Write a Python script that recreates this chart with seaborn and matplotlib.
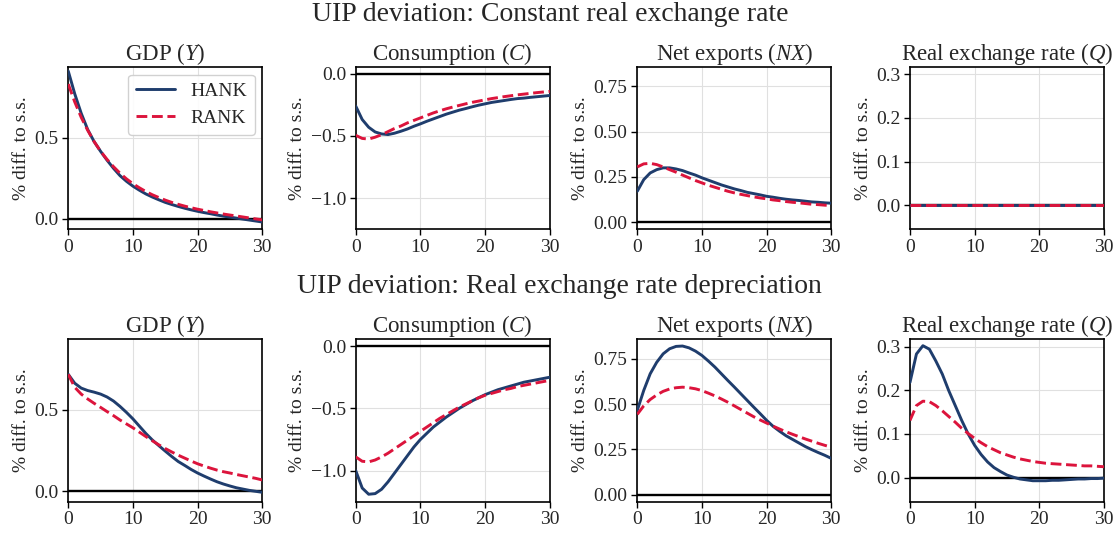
import numpy as np
import pandas as pd
import seaborn as sns
import matplotlib.pyplot as plt

# horizon (quarters)
t = list(range(31))

# --- row 1: UIP deviation, constant real exchange rate ---
gdp_hank_1 = [0.91, 0.77, 0.65, 0.55, 0.475, 0.415, 0.36, 0.31, 0.265, 0.23, 0.20,
              0.175, 0.152, 0.133, 0.116, 0.10, 0.087, 0.075, 0.064, 0.054, 0.045,
              0.037, 0.03, 0.022, 0.015, 0.009, 0.003, -0.003, -0.009, -0.015, -0.021]
gdp_rank_1 = [0.83, 0.72, 0.625, 0.545, 0.475, 0.415, 0.365, 0.32, 0.28, 0.245, 0.215,
              0.19, 0.167, 0.147, 0.13, 0.114, 0.10, 0.088, 0.077, 0.067, 0.058,
              0.05, 0.042, 0.035, 0.028, 0.022, 0.016, 0.01, 0.004, -0.002, -0.008]
c_hank_1 = [-0.26, -0.368, -0.43, -0.468, -0.484, -0.489, -0.478, -0.462, -0.444, -0.422, -0.403,
            -0.382, -0.363, -0.344, -0.325, -0.309, -0.293, -0.28, -0.266, -0.253, -0.242,
            -0.231, -0.223, -0.215, -0.207, -0.2, -0.196, -0.19, -0.185, -0.18, -0.175]
c_rank_1 = [-0.495, -0.52, -0.525, -0.51, -0.49, -0.465, -0.44, -0.42, -0.395, -0.375, -0.355,
            -0.335, -0.315, -0.298, -0.282, -0.268, -0.255, -0.242, -0.23, -0.22, -0.21,
            -0.2, -0.192, -0.184, -0.177, -0.17, -0.164, -0.158, -0.152, -0.147, -0.142]
nx_hank_1 = [0.171, 0.235, 0.272, 0.29, 0.30, 0.30, 0.294, 0.285, 0.272, 0.26, 0.245,
             0.232, 0.219, 0.206, 0.195, 0.184, 0.175, 0.165, 0.158, 0.151, 0.143,
             0.138, 0.132, 0.127, 0.123, 0.12, 0.116, 0.112, 0.11, 0.107, 0.105]
nx_rank_1 = [0.305, 0.322, 0.325, 0.318, 0.305, 0.29, 0.276, 0.26, 0.245, 0.23, 0.217,
             0.204, 0.193, 0.182, 0.171, 0.162, 0.154, 0.147, 0.14, 0.134, 0.129,
             0.123, 0.119, 0.114, 0.11, 0.107, 0.103, 0.099, 0.097, 0.094, 0.092]
q_hank_1 = [0.0] * 31
q_rank_1 = [0.0] * 31

# --- row 2: UIP deviation, real exchange rate depreciation ---
gdp_hank_2 = [0.72, 0.665, 0.635, 0.62, 0.61, 0.598, 0.58, 0.555, 0.522, 0.485, 0.445,
              0.40, 0.355, 0.315, 0.28, 0.246, 0.213, 0.182, 0.158, 0.133, 0.111,
              0.092, 0.074, 0.057, 0.043, 0.031, 0.02, 0.012, 0.004, -0.002, -0.008]
gdp_rank_2 = [0.72, 0.64, 0.598, 0.568, 0.541, 0.516, 0.49, 0.465, 0.438, 0.414, 0.39,
              0.363, 0.336, 0.31, 0.285, 0.262, 0.241, 0.221, 0.203, 0.185, 0.168,
              0.154, 0.141, 0.129, 0.119, 0.111, 0.102, 0.094, 0.086, 0.078, 0.068]
c_hank_2 = [-1.0, -1.14, -1.19, -1.185, -1.15, -1.09, -1.02, -0.95, -0.88, -0.81, -0.75,
            -0.70, -0.65, -0.61, -0.57, -0.535, -0.50, -0.47, -0.44, -0.415, -0.39,
            -0.37, -0.35, -0.335, -0.32, -0.305, -0.29, -0.28, -0.27, -0.26, -0.25]
c_rank_2 = [-0.89, -0.925, -0.93, -0.915, -0.89, -0.86, -0.825, -0.79, -0.755, -0.72, -0.685,
            -0.65, -0.615, -0.58, -0.55, -0.52, -0.49, -0.465, -0.44, -0.415, -0.395,
            -0.38, -0.365, -0.35, -0.34, -0.325, -0.315, -0.305, -0.295, -0.285, -0.275]
nx_hank_2 = [0.465, 0.575, 0.667, 0.73, 0.777, 0.805, 0.818, 0.82, 0.81, 0.792, 0.768,
             0.737, 0.704, 0.667, 0.63, 0.594, 0.557, 0.52, 0.483, 0.447, 0.41,
             0.377, 0.35, 0.325, 0.305, 0.285, 0.265, 0.248, 0.232, 0.217, 0.20]
nx_rank_2 = [0.443, 0.49, 0.525, 0.55, 0.57, 0.583, 0.59, 0.593, 0.59, 0.584, 0.574,
             0.56, 0.545, 0.528, 0.51, 0.49, 0.47, 0.45, 0.43, 0.412, 0.395,
             0.378, 0.362, 0.347, 0.333, 0.32, 0.307, 0.295, 0.283, 0.272, 0.262]
q_hank_2 = [0.218, 0.283, 0.302, 0.294, 0.267, 0.237, 0.199, 0.165, 0.131, 0.10, 0.074,
            0.053, 0.036, 0.023, 0.014, 0.006, 0.001, -0.003, -0.005, -0.007, -0.007,
            -0.007, -0.006, -0.006, -0.005, -0.004, -0.003, -0.003, -0.002, -0.002, -0.001]
q_rank_2 = [0.131, 0.165, 0.175, 0.174, 0.165, 0.153, 0.14, 0.127, 0.113, 0.101, 0.09,
            0.08, 0.071, 0.064, 0.057, 0.052, 0.047, 0.043, 0.04, 0.037, 0.035,
            0.033, 0.032, 0.031, 0.03, 0.029, 0.028, 0.027, 0.027, 0.026, 0.025]

row_titles = ["UIP deviation: Constant real exchange rate",
              "UIP deviation: Real exchange rate depreciation"]
panel_titles = ["GDP ($Y$)", "Consumption ($C$)", "Net exports ($NX$)", "Real exchange rate ($Q$)"]
ylims = [(-0.066, 0.937), (-1.25, 0.056), (-0.039, 0.858), (-0.055, 0.317)]
yticks = [[0.0, 0.5], [-1.0, -0.5, 0.0], [0.0, 0.25, 0.5, 0.75], [0.0, 0.1, 0.2, 0.3]]

rows = [
    [(gdp_hank_1, gdp_rank_1), (c_hank_1, c_rank_1), (nx_hank_1, nx_rank_1), (q_hank_1, q_rank_1)],
    [(gdp_hank_2, gdp_rank_2), (c_hank_2, c_rank_2), (nx_hank_2, nx_rank_2), (q_hank_2, q_rank_2)],
]

sns.set_theme(style="ticks")
plt.rcParams['font.family'] = ['Liberation Serif', 'DejaVu Serif']
plt.rcParams['mathtext.fontset'] = 'custom'
plt.rcParams['mathtext.rm'] = 'Liberation Serif'
plt.rcParams['mathtext.it'] = 'Liberation Serif:italic'

HANK_COL = '#1f3d6d'
RANK_COL = '#dc143c'

fig = plt.figure(figsize=(11.19, 5.33), dpi=100)

lefts = [0.0610, 0.3179, 0.5695, 0.8132]
bottoms = [0.5698, 0.0587]
w, h = 0.1734, 0.305

for r, row in enumerate(rows):
    for c, (hank, rank) in enumerate(row):
        ax = fig.add_axes([lefts[c], bottoms[r], w, h])
        df = pd.DataFrame({'t': t, 'HANK': hank, 'RANK': rank})
        ax.axhline(0, color='black', lw=1.7, zorder=1)
        sns.lineplot(data=df, x='t', y='HANK', ax=ax, color=HANK_COL, lw=2.1, label='HANK', zorder=3)
        sns.lineplot(data=df, x='t', y='RANK', ax=ax, color=RANK_COL, lw=2.1, linestyle='--',
                     label='RANK', zorder=4)
        ax.set_xlim(0, 30)
        ax.set_ylim(*ylims[c])
        ax.set_xticks([0, 10, 20, 30])
        ax.set_yticks(yticks[c])
        ax.grid(True, color='#e0e0e0', lw=0.8)
        ax.set_axisbelow(True)
        ax.set_title(panel_titles[c], fontsize=16.5, pad=5)
        ax.set_xlabel('')
        ax.set_ylabel('% diff. to s.s.', fontsize=14, labelpad=3)
        ax.tick_params(labelsize=14, length=4, width=1, color='black', pad=3)
        for s in ax.spines.values():
            s.set_color('black')
            s.set_linewidth(1.2)
        if r == 0 and c == 0:
            ax.legend(loc='upper right', fontsize=14, frameon=True, fancybox=True,
                      edgecolor='#cccccc', framealpha=0.9, borderaxespad=0.4)
        else:
            ax.get_legend().remove()

fig.text(0.492, 0.972, row_titles[0], ha='center', va='center', fontsize=20)
fig.text(0.500, 0.463, row_titles[1], ha='center', va='center', fontsize=20)

fig.savefig('out.png', dpi=100)
